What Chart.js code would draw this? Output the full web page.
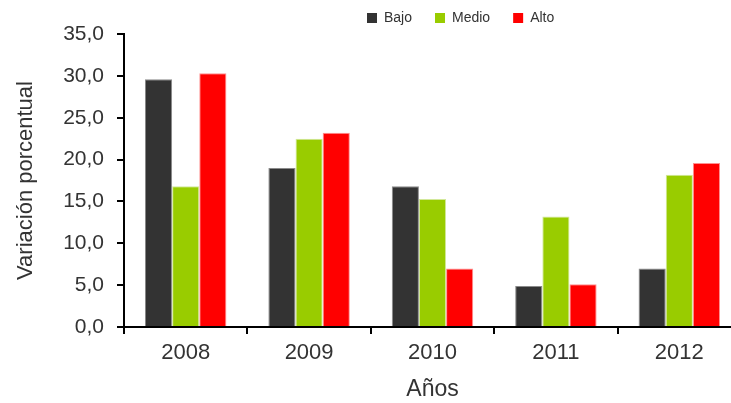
<!DOCTYPE html>
<html>
<head>
<meta charset="utf-8">
<script src="https://cdn.jsdelivr.net/npm/chart.js@4/dist/chart.umd.min.js"></script>
<style>
html,body{margin:0;padding:0;background:#fff;overflow:hidden;}
#wrap{width:731px;height:403px;overflow:hidden;}
canvas{display:block;}
</style>
</head>
<body>
<div id="wrap"><canvas id="c" width="741" height="403"></canvas></div>
<script>
const years = ['2008', '2009', '2010', '2011', '2012'];
const bajo  = [29.6, 19.0, 16.8, 4.9, 7.0];
const medio = [16.8, 22.5, 15.3, 13.2, 18.2];
const alto  = [30.3, 23.2, 7.0, 5.1, 19.6];
const seriesNames = ['Bajo', 'Medio', 'Alto'];
const yTickLabels = ['0,0', '5,0', '10,0', '15,0', '20,0', '25,0', '30,0', '35,0'];
const yTitle = 'Variación porcentual';
const xTitle = 'Años';

const TXT = '#333333';
const FONT = "'Liberation Sans', Arial, sans-serif";

const legendPlace = {
  id: 'legendPlace',
  beforeLayout(chart) {
    const lg = chart.legend;
    if (lg && !lg._patched) {
      const f = lg.fit;
      lg.fit = function () { f.call(this); this.height = 34; };
      lg._patched = true;
    }
  },
  afterLayout(chart) {
    const lg = chart.legend;
    if (!lg) return;
    const dy = -12 - lg.top;
    lg.top += dy; lg.bottom += dy + 30;
    const dx = 344 - lg.left;
    lg.left += dx; lg.right += dx;
  }
};

new Chart(document.getElementById('c'), {
  type: 'bar',
  data: {
    labels: years,
    datasets: [
      { label: seriesNames[0], data: bajo,  backgroundColor: '#333333', borderColor: '#8a8a8a', borderWidth: 1 },
      { label: seriesNames[1], data: medio, backgroundColor: '#99cc00', borderColor: '#d2e89a', borderWidth: 1 },
      { label: seriesNames[2], data: alto,  backgroundColor: '#ff0000', borderColor: '#ff9090', borderWidth: 1 }
    ]
  },
  options: {
    responsive: false,
    animation: false,
    devicePixelRatio: 1,
    layout: { padding: 0 },
    datasets: { bar: { barPercentage: 1, categoryPercentage: 0.66 } },
    plugins: {
      tooltip: { enabled: false },
      legend: {
        position: 'top',
        align: 'start',
        labels: {
          boxWidth: 10,
          boxHeight: 10,
          padding: 23,
          color: TXT,
          font: { family: FONT, size: 14 },
          generateLabels: (c) => Chart.defaults.plugins.legend.labels.generateLabels(c).map(l => ({ ...l, lineWidth: 0 }))
        }
      }
    },
    scales: {
      x: {
        afterFit: (s) => { s.height = 76; },
        grid: { display: true, drawOnChartArea: false, drawTicks: true, tickLength: 7, color: '#000', lineWidth: 2 },
        border: { display: true, color: '#000', width: 2 },
        ticks: { color: TXT, font: { family: FONT, size: 22 }, padding: 6 },
        title: { display: true, text: xTitle, color: TXT, font: { family: FONT, size: 23 }, padding: { top: 0, bottom: 0 } }
      },
      y: {
        min: 0, max: 35,
        afterFit: (s) => { s.width = 124; },
        grid: { display: true, drawOnChartArea: false, drawTicks: true, tickLength: 7, color: '#000', lineWidth: 2 },
        border: { display: true, color: '#000', width: 2 },
        ticks: { stepSize: 5, color: TXT, font: { family: FONT, size: 21 }, padding: 13,
                 callback: (v, i) => yTickLabels[i] },
        title: { display: true, text: yTitle, color: TXT, font: { family: FONT, size: 22 }, padding: { top: 13, bottom: 0 } }
      }
    }
  },
  plugins: [legendPlace]
});
</script>
</body>
</html>
